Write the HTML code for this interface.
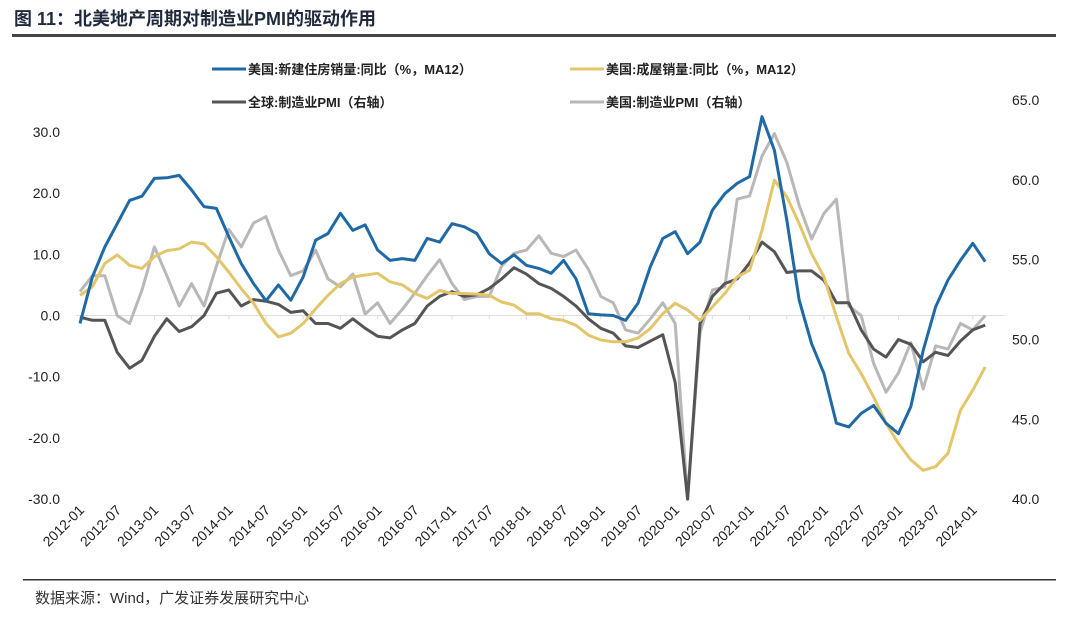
<!DOCTYPE html>
<html><head><meta charset="utf-8"><style>
body{margin:0;background:#fff;}
svg{display:block;font-family:"Liberation Sans","Noto Sans CJK SC",sans-serif;}
</style></head><body>
<svg id="c" width="1080" height="634" viewBox="0 0 1080 634">
<text x="14" y="25" font-size="18" font-weight="bold" fill="#1f2a3c">图 11：北美地产周期对制造业PMI的驱动作用</text>
<rect x="12" y="34" width="1044" height="3" fill="#444"/>
<g font-size="13" font-weight="bold" fill="#222">
<g><line x1="212" y1="69" x2="246" y2="69" stroke="#1f6aa5" stroke-width="3"/><text x="248" y="74">美国:新建住房销量:同比（%，MA12）</text></g>
<g><line x1="570" y1="69" x2="604" y2="69" stroke="#e3c56a" stroke-width="3"/><text x="606" y="74">美国:成屋销量:同比（%，MA12）</text></g>
<g><line x1="212" y1="102" x2="246" y2="102" stroke="#555" stroke-width="3"/><text x="248" y="107">全球:制造业PMI（右轴）</text></g>
<g><line x1="570" y1="102" x2="604" y2="102" stroke="#b8b8b8" stroke-width="3"/><text x="606" y="107">美国:制造业PMI（右轴）</text></g>
</g>
<g id="axes"></g>
<g id="series"></g>
<rect x="23" y="579" width="1033" height="1.5" fill="#333"/>
<text x="35" y="603" font-size="15" fill="#333">数据来源：Wind，广发证券发展研究中心</text>
</svg>
<script>
const leftTicks=[30,20,10,0,-10,-20,-30];
const rightTicks=[65,60,55,50,45,40];
const monthLabels=[];
for(let y=2012;y<=2024;y++){monthLabels.push(y+'-01');if(y<2024)monthLabels.push(y+'-07');}
const newHome=[-1.3,6.3,11.2,15,18.8,19.5,22.4,22.5,22.9,20.5,17.8,17.5,12.9,8.5,5.2,2.4,5,2.5,6.3,12.3,13.4,16.7,13.9,14.8,10.7,9,9.3,9,12.6,12,15,14.5,13.4,10.1,8.5,9.9,8.2,
7.7,6.9,9,6,0.3,0.1,0,-0.8,2,8,12.6,13.7,10.1,12,17.2,19.9,21.6,22.7,32.5,27,15.6,2.5,-4.6,-9.5,-17.6,-18.2,-16,-14.7,-17.6,-19.3,-14.9,-5.7,1.4,5.8,9,11.8,8.8];
const existing=[3.3,4.7,8.5,9.9,8.2,7.7,9.6,10.6,10.9,12,11.7,9.6,7.1,4.4,2,-1.3,-3.5,-2.9,-1.3,1.1,3.3,5.2,6.3,6.6,6.9,5.5,5,3.6,2.8,4.1,3.6,3.6,3.5,3.3,2.2,1.7,0.3,
0.3,-0.5,-0.8,-1.6,-3.2,-4,-4.3,-4.3,-3.7,-2.1,0.3,2,0.9,-0.8,1.4,3.6,6.3,7.4,13.9,22.1,19.4,15,10.1,6.3,-0.2,-6.2,-9.5,-13.3,-17.6,-20.9,-23.6,-25.3,-24.7,-22.5,-15.5,-12.2,-8.4];
const globalPmi=[51.4,51.2,51.2,49.2,48.2,48.7,50.2,51.3,50.5,50.8,51.5,52.9,53.1,52.1,52.5,52.4,52.2,51.7,51.8,51,51,50.7,51.3,50.7,50.2,50.1,50.6,51,52.1,52.7,53,52.7,52.8,53.2,53.8,54.5,54.1,
53.5,53.2,52.7,52.1,51.3,50.7,50.4,49.6,49.5,49.9,50.3,47.3,40,51,52.7,53.5,53.8,54.8,56.1,55.5,54.2,54.3,54.3,53.7,52.3,52.3,50.6,49.4,48.9,50,49.7,48.6,49.2,49,49.9,50.6,50.9];
const usPmi=[53,54,54,51.5,51,53.1,55.8,54,52.1,53.5,52.1,54.6,56.9,55.8,57.3,57.7,55.6,54,54.3,55.6,53.8,53.3,54.1,51.6,52.3,51,51.9,52.9,54,55,53.5,52.5,52.7,52.7,54.6,55.4,55.6,
56.5,55.4,55.2,55.6,54.4,52.7,52.3,50.6,50.4,51.3,52.3,51,40,50.4,53.1,53.3,58.8,59,61.5,62.9,61.1,58.4,56.3,57.9,58.8,52.1,51.5,48.5,46.7,47.9,49.8,46.9,49.6,49.4,51,50.6,51.5];
const NS='http://www.w3.org/2000/svg';
const X0=80,DX=6.2,STEP=2;
const xOf=i=>X0+i*STEP*DX;
const xMonth=m=>X0+m*DX;
const yL=v=>315.5-v*6.12;
const yR=v=>339.5-(v-50)*15.96;
const axes=document.getElementById('axes'),series=document.getElementById('series');
function mk(tag,attrs,parent){const e=document.createElementNS(NS,tag);for(const k in attrs)e.setAttribute(k,attrs[k]);parent.appendChild(e);return e;}
const zl=mk('line',{x1:76,x2:1005,y1:yL(0),y2:yL(0),stroke:'#ddd','stroke-width':1},axes);


leftTicks.forEach(v=>{const t=mk('text',{x:60,y:yL(v)+5,'font-size':14,'text-anchor':'end',fill:'#222'},axes);t.textContent=v.toFixed(1);

});
rightTicks.forEach(v=>{const t=mk('text',{x:1012,y:yR(v)+5,'font-size':14,fill:'#222'},axes);t.textContent=v.toFixed(1);

});
monthLabels.forEach((s,i)=>{const x=xMonth(i*6)+5,y=511;const t=mk('text',{x:x,y:y,'font-size':14,'text-anchor':'end',fill:'#222',transform:`rotate(-45 ${x} ${y})`},axes);t.textContent=s;


const tk=mk('line',{x1:xMonth(i*6),x2:xMonth(i*6),y1:yL(0),y2:yL(0)+4,stroke:'#ddd'},axes);

});
function line(arr,yf,color,name){const d=arr.map((v,i)=>(i?'L':'M')+xOf(i).toFixed(1)+' '+yf(v).toFixed(1)).join(' ');
const p=mk('path',{d:d,fill:'none',stroke:color,'stroke-width':3,'stroke-linejoin':'round'},series);

}
line(usPmi,yR,'#b8b8b8','us-pmi-line');
line(globalPmi,yR,'#555555','global-pmi-line');
line(existing,yL,'#e3c56a','existing-home-sales-line');
line(newHome,yL,'#1f6aa5','new-home-sales-line');
</script>
</body></html>
